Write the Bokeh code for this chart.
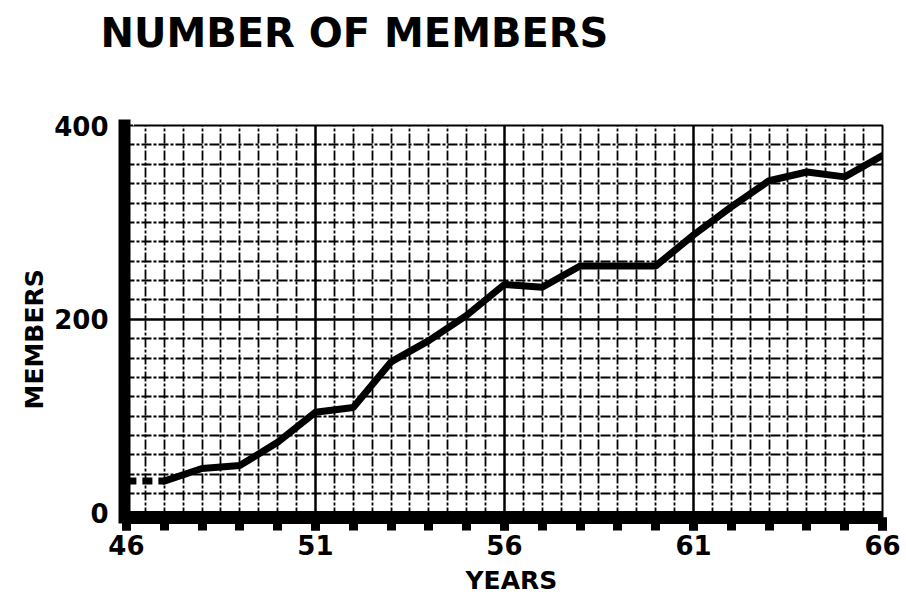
from bokeh.plotting import figure
from bokeh.models import FixedTicker, Range1d, Title, LinearAxis
from bokeh.embed import file_html
from bokeh.resources import INLINE

# ---- data ----
years = [47, 48, 49, 50, 51, 52, 53, 54, 55, 56, 57, 58, 59, 60, 61, 62, 63, 64, 65, 66]
members = [33, 46, 49, 73, 104, 109, 156, 178, 204, 236, 233, 255, 255, 255, 287, 316, 343, 352, 347, 369]
start_years = [46, 47]          # dashed lead-in segment
start_members = [33, 33]
x_ticks = [46, 51, 56, 61, 66]
y_ticks = [0, 200, 400]
x_major_grid = [51, 56, 61]
y_major_grid = [200]

title_text = "NUMBER OF MEMBERS"
x_label = "YEARS"
y_label = "MEMBERS"

FONT = "DejaVu Sans"

x_minor_grid = [46 + 0.5 * i for i in range(1, 40) if (46 + 0.5 * i) not in x_major_grid]
y_minor_grid = [20 * i for i in range(1, 20) if 20 * i not in y_major_grid]
x_minor_ticks = list(range(46, 67))

p = figure(width=906, height=604,
           x_range=Range1d(45.95, 66), y_range=Range1d(-4.6, 400),
           output_backend="svg", toolbar_location=None,
           min_border_left=124, min_border_right=24,
           min_border_top=125, min_border_bottom=87)
p.title_location = None

p.background_fill_color = "white"
p.border_fill_color = "white"
p.outline_line_color = "black"
p.outline_line_width = 2

# white (invisible) spacer axis between frame and main title (pushes the title up)
spacer = LinearAxis(ticker=FixedTicker(ticks=[46.2], minor_ticks=[]),
                    axis_line_color=None,
                    major_tick_line_color="white", major_tick_line_width=1,
                    minor_tick_line_color=None,
                    major_tick_out=68, major_tick_in=0, minor_tick_out=0,
                    major_label_text_color=None, major_label_standoff=0)
p.add_layout(spacer, "above")

# main title (outside the spacer)
p.add_layout(Title(text=title_text, align="left", offset=-24, standoff=4,
                   text_font=FONT, text_font_style="bold", text_font_size="40px",
                   text_color="black"), "above")

# grid
p.xgrid.ticker = FixedTicker(ticks=x_major_grid, minor_ticks=x_minor_grid)
p.ygrid.ticker = FixedTicker(ticks=y_major_grid, minor_ticks=y_minor_grid)
for g in (p.xgrid, p.ygrid):
    g.grid_line_color = "black"
    g.grid_line_width = 2.5
    g.grid_line_alpha = 1.0
    g.minor_grid_line_color = "black"
    g.minor_grid_line_width = 1.8
    g.minor_grid_line_dash = "10 2 3 2"

# x axis
xa = p.below[0]
xa.ticker = FixedTicker(ticks=x_ticks, minor_ticks=x_minor_ticks)
xa.axis_line_width = 13
xa.axis_line_color = "black"
xa.major_tick_out = 13
xa.major_tick_in = 0
xa.minor_tick_out = 13
xa.minor_tick_in = 0
xa.major_tick_line_width = 9
xa.minor_tick_line_width = 9
xa.major_tick_line_color = "black"
xa.minor_tick_line_color = "black"
xa.major_label_standoff = 4
xa.major_label_text_font = FONT
xa.major_label_text_font_style = "bold"
xa.major_label_text_font_size = "26px"
xa.major_label_text_color = "black"

# y axis
ya = p.left[0]
ya.ticker = FixedTicker(ticks=y_ticks)
ya.axis_line_width = 12
ya.axis_line_color = "black"
ya.axis_line_cap = "square"
ya.major_tick_line_color = None
ya.minor_tick_line_color = None
ya.major_tick_out = 0
ya.major_tick_in = 0
ya.major_label_standoff = 16
ya.major_label_text_font = FONT
ya.major_label_text_font_style = "bold"
ya.major_label_text_font_size = "26px"
ya.major_label_text_color = "black"

# axis titles as side titles (positionable)
p.add_layout(Title(text=y_label, align="left", offset=108, standoff=5,
                   text_font=FONT, text_font_style="bold", text_font_size="25px",
                   text_color="black"), "left")
p.add_layout(Title(text=x_label, align="left", offset=341, standoff=12,
                   text_font=FONT, text_font_style="bold", text_font_size="25px",
                   text_color="black"), "below")

# data line
p.line(start_years, start_members, line_color="black", line_width=7, line_dash="10 6")
p.line(years, members, line_color="black", line_width=7, line_join="round", line_cap="round")

open("out.html", "w").write(file_html(p, INLINE))
